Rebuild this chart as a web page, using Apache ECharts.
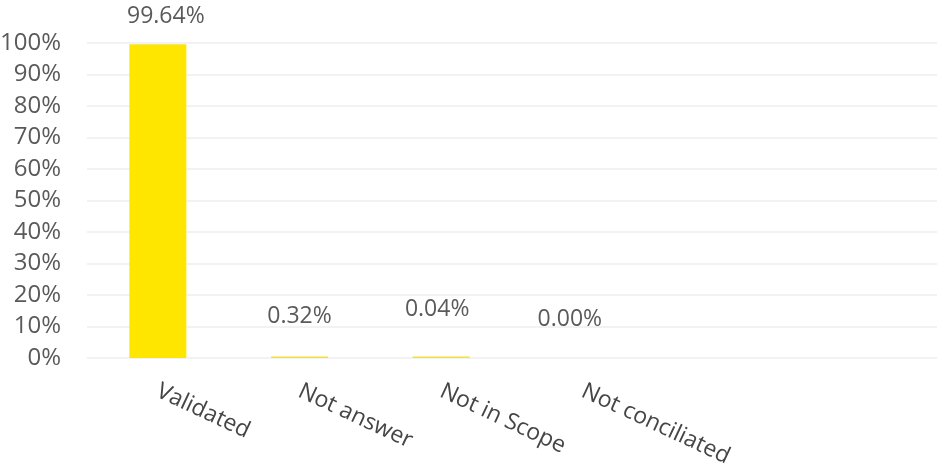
<!DOCTYPE html>
<html>
<head>
<meta charset="utf-8">
<script src="https://cdn.jsdelivr.net/npm/echarts@6/dist/echarts.min.js"></script>
<style>
  html, body { margin: 0; padding: 0; background: #fff; }
  #chart { width: 937px; height: 464px; }
</style>
</head>
<body>
<div id="chart"></div>
<script>
// Status categories (two trailing slots are left blank on the axis)
const categories = ['Validated', 'Not answer', 'Not in Scope', 'Not conciliated', '', ''];
// Share of records per status, in percent
const shares = [99.64, 0.32, 0.04, 0.00, null, null];
// Value label text
const shareLabels = ['99.64%', '0.32%', '0.04%', '0.00%', '', ''];
// Y axis ticks
const yMin = 0, yMax = 100, yStep = 10;

// Hand-placed label offsets [dx, dy] for each bar
const labelOffsets = [[8, -11], [0, -24], [-4, -31], [-13, -21], [0, 0], [0, 0]];

const font = '"Open Sans", "DejaVu Sans", sans-serif';

const chart = echarts.init(document.getElementById('chart'), null, { renderer: 'canvas' });
chart.setOption({
  animation: false,
  backgroundColor: '#ffffff',
  grid: { left: 87, right: 0, top: 43, bottom: 106, containLabel: false, outerBoundsMode: 'none' },
  xAxis: {
    type: 'category',
    data: categories,
    axisLine: { show: false },
    axisTick: { show: false },
    axisLabel: {
      rotate: -25,
      margin: 32,
      interval: 0,
      color: '#454545',
      fontSize: 23,
      fontFamily: font
    }
  },
  yAxis: {
    type: 'value',
    min: yMin, max: yMax, interval: yStep,
    axisLine: { show: false },
    axisTick: { show: false },
    splitLine: { lineStyle: { color: '#f2f2f2', width: 2 } },
    axisLabel: {
      formatter: '{value}%',
      margin: 26,
      color: '#5a5a5a',
      fontSize: 24,
      fontFamily: font
    }
  },
  series: [{
    type: 'bar',
    barWidth: 57,
    barMinHeight: 1.5,
    data: shares.map((v, i) => ({
      value: v,
      // a zero share leaves no visible bar
      itemStyle: { color: v === 0 ? 'rgba(0,0,0,0)' : '#FFE600' },
      label: {
        show: v !== null,
        position: 'top',
        offset: labelOffsets[i],
        formatter: () => shareLabels[i],
        color: '#5a5a5a',
        fontSize: 23,
        fontFamily: font
      }
    }))
  }]
});
</script>
</body>
</html>
